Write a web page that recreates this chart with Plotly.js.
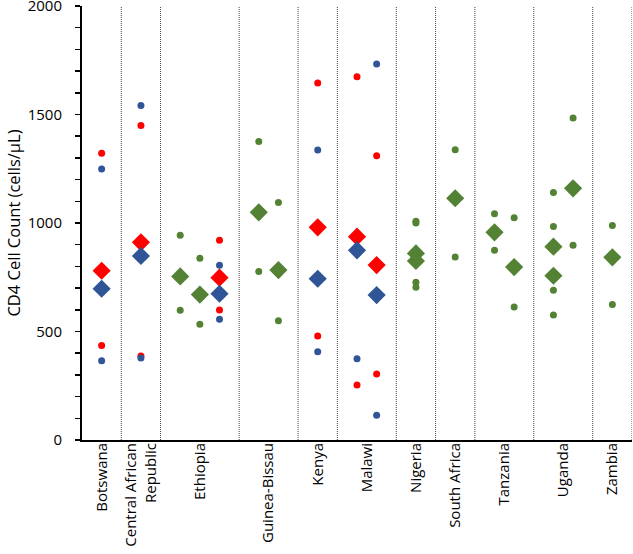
<!DOCTYPE html>
<html>
<head>
<meta charset="utf-8">
<script src="https://cdn.plot.ly/plotly-3.0.1.min.js"></script>
<style>html,body{margin:0;padding:0;background:#fff;}#chart{width:633px;height:554px;}</style>
</head>
<body>
<div id="chart"></div>
<script>
// Category labels and their positions on the x scale
const countries = ["Botswana", "Central African<br>Republic", "Ethiopia", "Guinea-Bissau", "Kenya", "Malawi", "Nigeria", "South Africa", "Tanzania", "Uganda", "Zambia"];
const countryPos = [1, 3, 6, 9.5, 12, 14.5, 17, 19, 21.5, 24.5, 27];
const separators = [2, 4, 8, 11, 13, 16, 18, 20, 23, 26, 28];

// Red series
const redX    = [1, 3, 7, 12, 14, 15];
const redMid  = [780, 911, 748, 980, 937, 806];
const redHigh = [1322, 1449, 920, 1645, 1674, 1310];
const redLow  = [436, 387, 599, 479, 253, 304];

// Blue series
const blueX    = [1, 3, 7, 12, 14, 15];
const blueMid  = [697, 848, 674, 743, 874, 668];
const blueHigh = [1249, 1541, 805, 1336, null, 1733];
const blueLow  = [365, 378, 556, 407, 375, 114];

// Green series
const greenX    = [5, 6, 9, 10, 17, 17, 19, 21, 22, 24, 24, 25, 27];
const greenMid  = [754, 670, 1049, 783, 860, 825, 1114, 957, 797, 891, 757, 1160, 842];
const greenHigh = [943, 837, 1376, 1095, 1008, 1000, 1338, 1043, 1024, 1141, 984, 1484, 989];
const greenLow  = [598, 533, 777, 550, 727, 704, 843, 874, 613, 690, 576, 897, 625];

const RED = '#FF0000', BLUE = '#2F5597', GREEN = '#548235';

function series(x, mid, hi, lo, color) {
  return [
    {x: x, y: hi, type: 'scatter', mode: 'markers', marker: {color: color, size: 7, symbol: 'circle'}, hoverinfo: 'y', showlegend: false},
    {x: x, y: lo, type: 'scatter', mode: 'markers', marker: {color: color, size: 7, symbol: 'circle'}, hoverinfo: 'y', showlegend: false},
    {x: x, y: mid, type: 'scatter', mode: 'markers', marker: {color: color, size: 14, symbol: 'diamond'}, hoverinfo: 'y', showlegend: false}
  ];
}

const data = [].concat(
  series(greenX, greenMid, greenHigh, greenLow, GREEN),
  series(redX, redMid, redHigh, redLow, RED),
  series(blueX, blueMid, blueHigh, blueLow, BLUE)
);

const shapes = separators.map(s => ({
  type: 'line', xref: 'x', yref: 'paper', x0: s, x1: s, y0: 0, y1: 1,
  line: {color: '#444444', width: 1, dash: '1px,1px'}, layer: 'below'
}));

const FAM = 'Open Sans, sans-serif';
const labelFont = {family: FAM, size: 15, color: '#000'};
const titleFont = {family: FAM, size: 16.5, color: '#000'};
const tickFont = {family: FAM, size: 15, color: '#000'};

const layout = {
  width: 633, height: 554,
  margin: {l: 82, r: 1, t: 6, b: 114},
  paper_bgcolor: '#fff', plot_bgcolor: '#fff',
  font: tickFont,
  showlegend: false,
  shapes: shapes,
  xaxis: {
    range: [0, 28], tickmode: 'array', tickvals: countryPos, ticktext: countries,
    tickangle: -90, tickfont: labelFont, ticks: '', showgrid: false, zeroline: false,
    ticklabelstandoff: -5,
    showline: true, linecolor: '#000', linewidth: 2, fixedrange: true, automargin: false
  },
  yaxis: {
    range: [0, 2000], dtick: 500, tick0: 0, tickfont: tickFont,
    ticklabeloverflow: 'allow', ticklabelstandoff: 10,
    ticks: 'outside', ticklen: 5, tickwidth: 1.5, tickcolor: '#000',
    minor: {dtick: 100, ticks: 'outside', ticklen: 5, tickwidth: 1.5, tickcolor: '#000', showgrid: false},
    showgrid: false, zeroline: false, showline: true, linecolor: '#000', linewidth: 2,
    title: {text: 'CD4 Cell Count (cells/µL)', font: titleFont, standoff: 3},
    fixedrange: true, automargin: false
  }
};

Plotly.newPlot('chart', data, layout, {displayModeBar: false, staticPlot: true});
</script>
</body>
</html>
